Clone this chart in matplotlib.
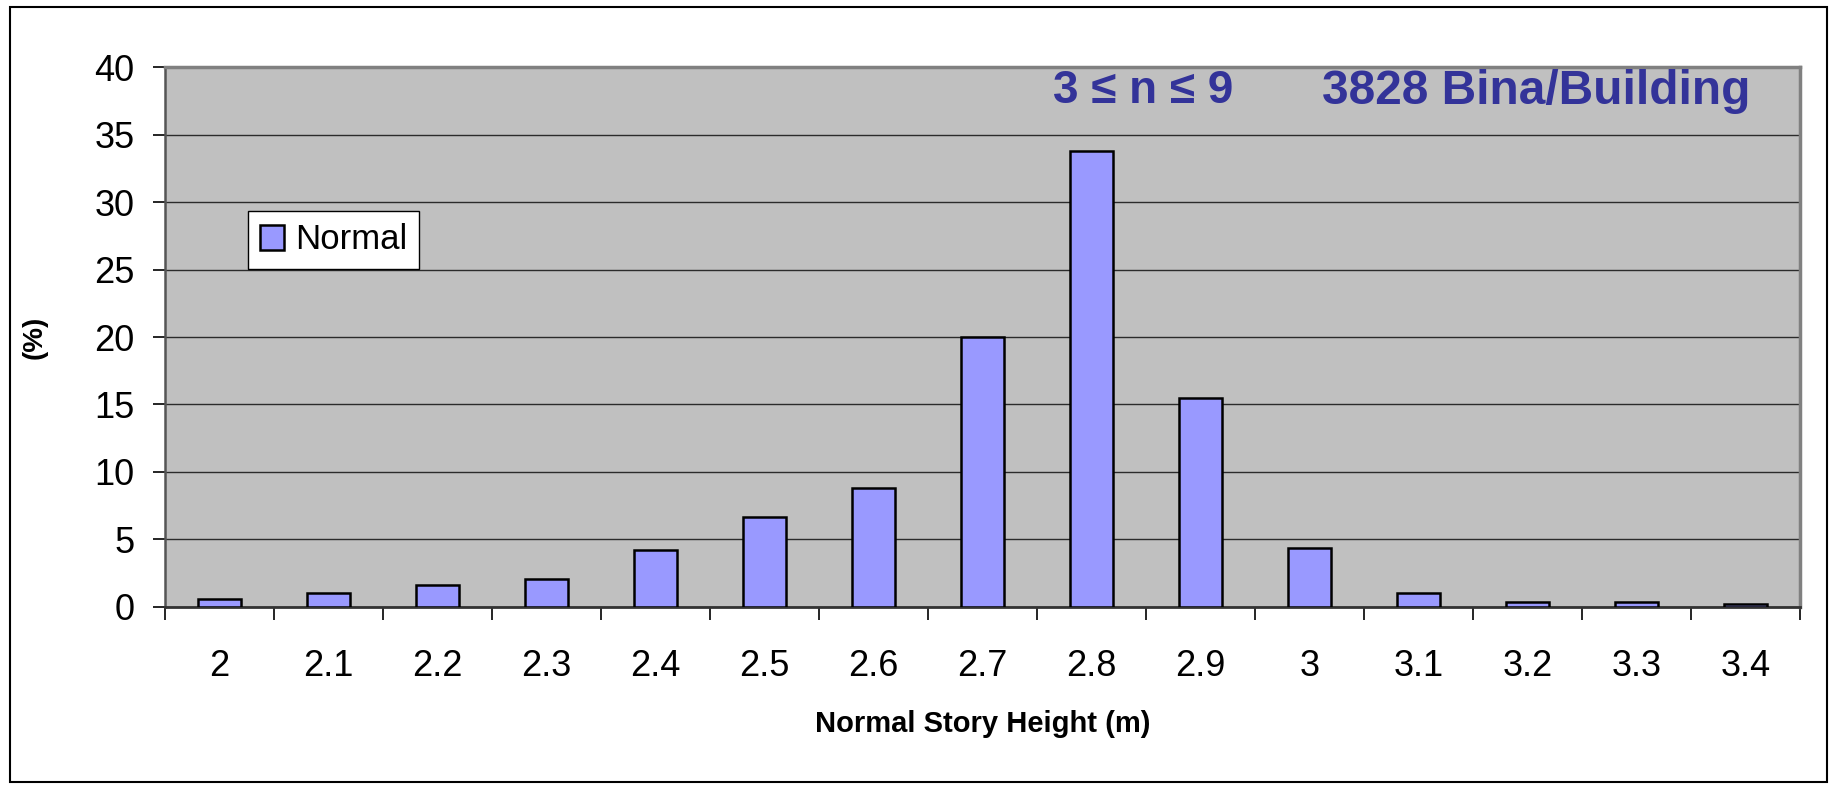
import matplotlib.pyplot as plt
from matplotlib.patches import Rectangle
import numpy as np

plt.rcParams['font.family'] = ['Liberation Sans', 'DejaVu Sans']

# Story height classes (m) and share of buildings (%)
heights = ['2', '2.1', '2.2', '2.3', '2.4', '2.5', '2.6', '2.7',
           '2.8', '2.9', '3', '3.1', '3.2', '3.3', '3.4']
percent = [0.6, 1.0, 1.6, 2.1, 4.2, 6.7, 8.8, 20.0,
           33.8, 15.5, 4.4, 1.0, 0.4, 0.4, 0.2]

fig = plt.figure(figsize=(18.29, 7.85), dpi=100)
ax = fig.add_axes([0.0902, 0.2268, 0.8939, 0.6878])
ax.set_facecolor('#c0c0c0')

x = np.arange(len(heights))
ax.bar(x, percent, width=0.4, color='#9999ff', edgecolor='black',
       linewidth=1.8, label='Normal', zorder=3)

ax.set_xlim(-0.5, len(heights) - 0.5)
ax.set_ylim(0, 40)
ax.set_yticks(np.arange(0, 41, 5))
ax.grid(True, axis='y', color='#2b2b2b', linewidth=1.0, zorder=1)
ax.set_axisbelow(True)

# category labels centred, tick marks on the category boundaries
ax.set_xticks(x)
ax.set_xticklabels(heights)
ax.set_xticks(np.arange(-0.5, len(heights), 1.0), minor=True)
ax.tick_params(axis='x', which='major', length=0, pad=30, labelsize=26)
ax.tick_params(axis='x', which='minor', length=9, width=1.2, color='black')
ax.tick_params(axis='y', length=9, width=1.2, pad=13, labelsize=26)

for side in ['top', 'right']:
    ax.spines[side].set_color('#808080')
    ax.spines[side].set_linewidth(2.5)
ax.spines['left'].set_color('#555555')
ax.spines['left'].set_linewidth(1.8)
ax.spines['bottom'].set_color('#333333')
ax.spines['bottom'].set_linewidth(2)

ax.set_xlabel('Normal Story Height (m)', fontsize=21, fontweight='bold',
              labelpad=19)
ax.set_ylabel('(%)', fontsize=20, fontweight='bold')
ax.yaxis.set_label_coords(-0.072, 0.5)

ax.text(0.543, 0.955, '3 \u2264 n \u2264 9', transform=ax.transAxes,
        ha='left', va='center', fontsize=33, fontweight='bold', color='#333399')
ax.text(0.7077, 0.955, '3828 Bina/Building', transform=ax.transAxes,
        ha='left', va='center', fontsize=34.5, fontweight='bold', color='#333399')

leg = ax.legend(loc='upper left', bbox_to_anchor=(0.0508, 0.733),
                borderaxespad=0, fontsize=25, fancybox=False, framealpha=1,
                edgecolor='black', handlelength=0.7, handleheight=0.75,
                handletextpad=0.3, borderpad=0.35)
leg.get_frame().set_linewidth(1.0)

# outer chart border
fig.patches.append(Rectangle((0.0055, 0.004), 0.9934, 0.987,
                             transform=fig.transFigure, fill=False,
                             edgecolor='black', linewidth=1.5))

fig.savefig('out.png', dpi=100)
